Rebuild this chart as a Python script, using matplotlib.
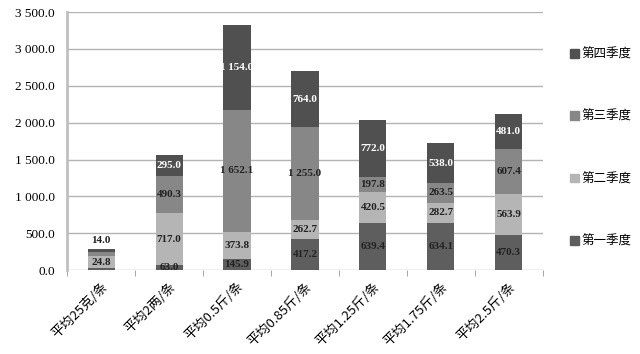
import numpy as np
import matplotlib
matplotlib.use("Agg")
import matplotlib.pyplot as plt
from matplotlib.patches import Patch

plt.rcParams['font.family'] = ['Liberation Serif', 'Noto Sans CJK SC']

categories = ['平均25克/条', '平均2两/条', '平均0.5斤/条', '平均0.85斤/条',
              '平均1.25斤/条', '平均1.75斤/条', '平均2.5斤/条']
q1 = [25, 63.0, 145.9, 417.2, 639.4, 634.1, 470.3]
q2 = [165, 717.0, 373.8, 262.7, 420.5, 282.7, 563.9]
q3 = [55, 490.3, 1652.1, 1255.0, 197.8, 263.5, 607.4]
q4 = [40, 295.0, 1154.0, 764.0, 772.0, 538.0, 481.0]
# printed labels (the first bar only shows two of them)
q1_lbl = [None, '63.0', '145.9', '417.2', '639.4', '634.1', '470.3']
q2_lbl = ['24.8', '717.0', '373.8', '262.7', '420.5', '282.7', '563.9']
q3_lbl = [None, '490.3', '1 652.1', '1 255.0', '197.8', '263.5', '607.4']
q4_lbl = ['14.0', '295.0', '1 154.0', '764.0', '772.0', '538.0', '481.0']
series = ['第一季度', '第二季度', '第三季度', '第四季度']
colors = ['#5e5e5e', '#b5b5b5', '#878787', '#505050']

fig = plt.figure(figsize=(6.4, 3.54), dpi=100)
ax = fig.add_axes([0.105, 0.237, 0.743, 0.729])

x = np.arange(len(categories))
bottom = np.zeros(len(categories))
data = [q1, q2, q3, q4]
labels = [q1_lbl, q2_lbl, q3_lbl, q4_lbl]
for k in range(4):
    vals = np.array(data[k], dtype=float)
    ax.bar(x, vals, 0.4, bottom=bottom, color=colors[k], zorder=3)
    for i in range(len(x)):
        t = labels[k][i]
        if t is None:
            continue
        if k == 3 and i == 0:
            ax.text(x[i], bottom[i] + vals[i] + 60, t, ha='center', va='bottom',
                    fontsize=8, fontweight='bold', color='#222222', zorder=4)
            continue
        c = 'white' if k == 3 else '#222222'
        ax.text(x[i], bottom[i] + vals[i] / 2, t, ha='center', va='center',
                fontsize=8, fontweight='bold', color=c, zorder=4)
    bottom += vals

ax.set_xlim(-0.5, len(categories) - 0.5)
ax.set_ylim(0, 3500)
yt = np.arange(0, 3501, 500)
ax.set_yticks(yt)
ax.set_yticklabels([f'{v:,.1f}'.replace(',', ' ') for v in yt], fontsize=9.5)
ax.yaxis.grid(True, color='#b3b3b3', linewidth=1, zorder=0)
ax.tick_params(axis='y', length=0, pad=9)

ax.set_xticks(x)
ax.set_xticklabels(categories, rotation=45, ha='right', rotation_mode='anchor',
                   fontsize=9.5, family=['Noto Sans CJK SC', 'Liberation Serif'])
ax.tick_params(axis='x', length=0, pad=7)
ax.set_xticks(np.arange(-0.5, len(categories)), minor=True)
ax.tick_params(axis='x', which='minor', length=4, color='#999999')

for s in ['top', 'right', 'bottom']:
    ax.spines[s].set_visible(False)
ax.spines['left'].set_color('#c0c0c0')
ax.spines['left'].set_linewidth(2)

handles = [Patch(color=colors[k]) for k in range(4)][::-1]
fig.legend(handles, series[::-1], loc='upper left', bbox_to_anchor=(0.873, 0.897),
           frameon=False, handlelength=0.7, handleheight=0.7, handletextpad=0.25,
           labelspacing=3.95, prop={'family': ['Noto Sans CJK SC'], 'size': 9})

fig.savefig('out.png', dpi=100)
